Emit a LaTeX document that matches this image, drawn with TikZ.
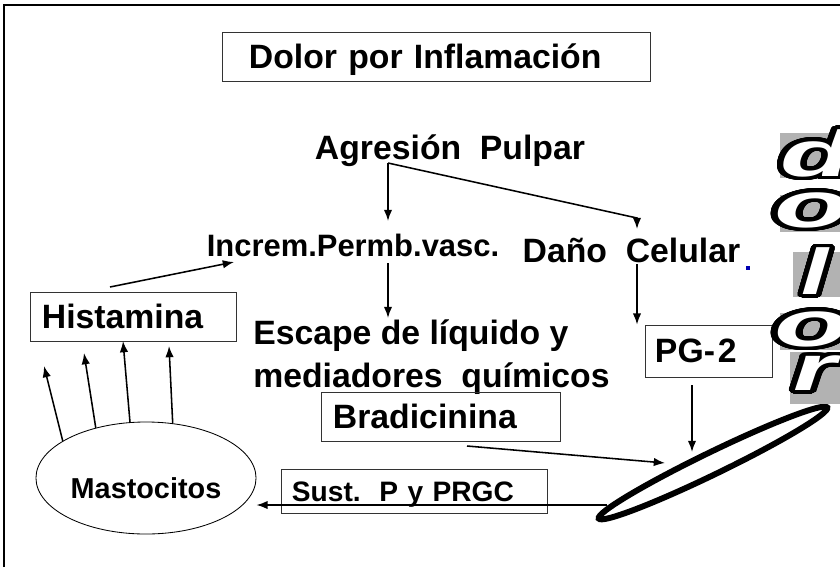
\documentclass[tikz,border=0pt]{standalone}
\usepackage{fontspec}
\setmainfont{Liberation Sans}
\usepackage[copies]{contour}
\usetikzlibrary{arrows.meta,shapes.geometric}
\contourlength{2.5pt}
\contournumber{64}

\begin{document}
\begin{tikzpicture}[x=0.025cm, y=-0.025cm,
  every node/.style={font=\bfseries\fontsize{24}{28}\selectfont, inner sep=0pt},
  box/.style={draw=black!80, line width=0.6pt, align=left, text height=17pt, text depth=0pt, minimum height=1.225cm},
  arr/.style={-{Latex[length=8pt,width=6pt]}, line width=1.1pt},
  letra/.style={text=white, font=\bfseries\itshape\fontsize{46}{46}\selectfont}]
\useasboundingbox (0,0) rectangle (840,567);
% marco
\draw[line width=1.3pt] (4,567) -- (4,5) -- (840,5);
% cajas y textos
\node[box, text width=9.35cm, inner xsep=0.675cm] (titulo) at (436,56.5) {Dolor por Inflamación};
\node[anchor=base] (agresion) at (450,159) {Agresión\ \ Pulpar};
\node[anchor=base, font=\bfseries\fontsize{22}{26}\selectfont] (incr) at (353,256) {Increm.Permb.vasc.};
\node[anchor=base] (dano) at (631.5,262) {Daño\ \ Celular};
\node[anchor=base west] (escape) at (253,344) {Escape de líquido y};
\node[anchor=base west] (mediad) at (253,387) {mediadores\ \ químicos};
\node[box, text width=5.375cm, inner xsep=0.3cm] (brad) at (440.5,416.5) {Bradicinina};
\node[box, text width=4.55cm, inner xsep=0.3cm] (hist) at (133,316.5) {Histamina};
\node[box, text width=2.675cm, inner xsep=0.25cm, minimum height=1.3cm] (pg) at (708.5,351) {PG-\kern2pt2};
\node[box, text width=6.1cm, inner xsep=0.275cm, minimum height=1.1cm, text height=14.3pt,
  font=\bfseries\fontsize{20}{24}\selectfont] (sust) at (414,491) {Sust.\ \ P y PRGC};
\node[draw, ellipse, line width=0.6pt, minimum width=5.5cm, minimum height=2.8cm, text height=28.5pt, text depth=0pt,
  font=\bfseries\fontsize{20.5}{24}\selectfont] (masto) at (146,478) {Mastocitos};
\node[draw, ellipse, rotate=25.9, line width=4.2pt, minimum width=6.35cm, minimum height=0.55cm] (lesion) at (713,463) {};
\fill[blue!70!black] (746,266) rectangle (750,270);
% puntos de las flechas
\coordinate (split) at (388,163);
\coordinate (codo) at (637,218);
\coordinate (dtop) at (637,229);
\coordinate (itop) at (388,221);
\coordinate (ibot) at (388,263);
\coordinate (etop) at (388,318);
\coordinate (dbot) at (637,264);
\coordinate (pgsal) at (692,385);
\coordinate (pgfin) at (692,452);
\coordinate (bsal) at (467,446);
\coordinate (bfin) at (665,463);
\coordinate (ssal) at (607,505);
\coordinate (hsal) at (110,287);
\coordinate (ifin) at (234,262);
% flechas
\draw[arr] (split) -- (itop);
\draw[arr] (split) -- (codo) -- (dtop);
\draw[arr] (ibot) -- (etop);
\draw[arr] (dbot) -- (dbot |- pg.north);
\draw[arr] (pgsal) -- (pgfin);
\draw[arr] (bsal) -- (bfin);
\draw[arr] (ssal) -- (ssal -| masto.east);
\draw[arr] (hsal) -- (ifin);
\foreach \a/\x/\y [count=\i] in {156/44/366, 135/84/353, 106/123/341, 64/169/346} {
  \coordinate (h\i) at (\x,\y);
  \draw[arr] (masto.\a) -- (h\i);
}
% dolor
\fill[black!30] (780,133) rectangle (840,178);
\fill[black!30] (780,195) rectangle (840,232);
\fill[black!30] (793,252) rectangle (840,297);
\fill[black!30] (780,313) rectangle (840,350);
\fill[black!30] (790,352) rectangle (840,404);
\node[letra] (d1) at (816,155) {\scalebox{1.8}[1]{\contour{black}{d}}};
\node[letra] (o1) at (812,212) {\scalebox{1.9}[1]{\contour{black}{o}}};
\node[letra] (l1) at (815,273) {\scalebox{1.5}[1]{\contour{black}{l}}};
\node[letra] (o2) at (812,331) {\scalebox{1.9}[1]{\contour{black}{o}}};
\node[letra] (r1) at (815,375) {\scalebox{1.7}[1]{\contour{black}{r}}};
\end{tikzpicture}
\end{document}
